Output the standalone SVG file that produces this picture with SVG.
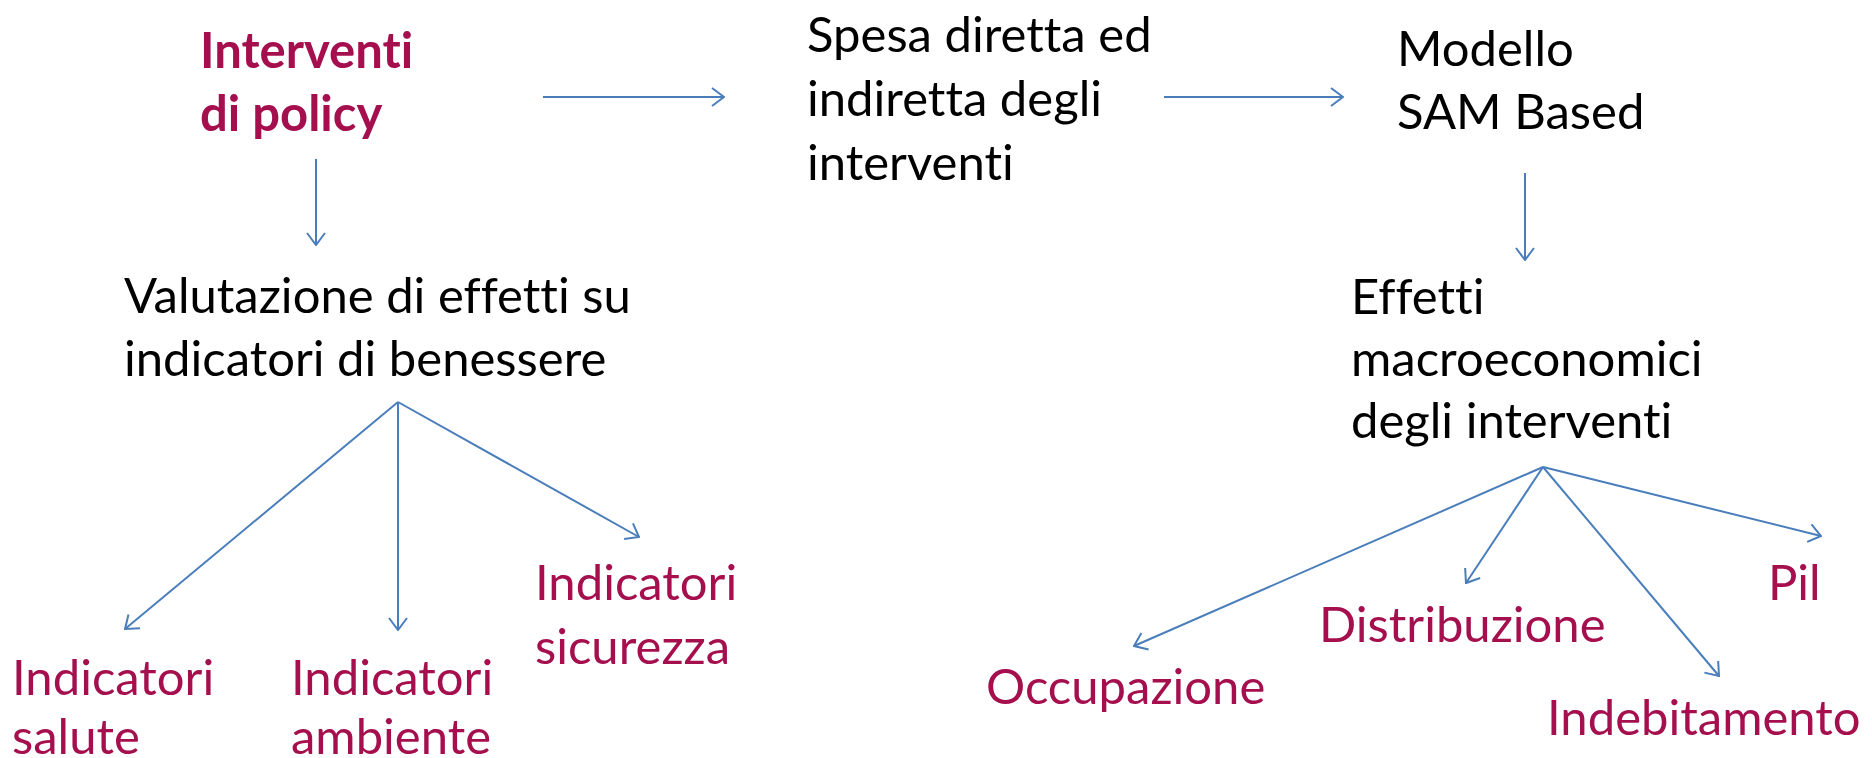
<svg xmlns="http://www.w3.org/2000/svg" width="1872" height="758" viewBox="0 0 1872 758">
<style>
text{font-family:Lato,"Liberation Sans",sans-serif;font-size:49px;font-variant-ligatures:none;font-feature-settings:"liga" 0,"dlig" 0}
.k{fill:#000}
.r{fill:#A50F4E}
.b{font-weight:bold}
.c line{stroke:#4A7EBB;stroke-width:2;marker-end:url(#ah)}
</style>
<defs>
<marker id="ah" viewBox="0 0 14 20" refX="13" refY="10" markerWidth="14" markerHeight="20" markerUnits="userSpaceOnUse" orient="auto">
<path d="M1,1 L13,10 L1,19" fill="none" stroke="#4A7EBB" stroke-width="2"/>
</marker>
</defs>
<rect width="1872" height="758" fill="#fff"/>
<g id="interventi"><text class="r b" x="200" y="68">Interventi</text><text class="r b" x="200" y="131">di policy</text></g>
<g id="spesa"><text class="k" x="807" y="52">Spesa diretta ed</text><text class="k" x="807" y="116">indiretta degli</text><text class="k" x="807" y="180">interventi</text></g>
<g id="modello"><text class="k" x="1397" y="66">Modello</text><text class="k" x="1397" y="129">SAM Based</text></g>
<g id="valutazione"><text class="k" x="124" y="313">Valutazione di effetti su</text><text class="k" x="124" y="376">indicatori di benessere</text></g>
<g id="effetti"><text class="k" x="1351" y="314">Effetti</text><text class="k" x="1351" y="376">macroeconomici</text><text class="k" x="1351" y="438">degli interventi</text></g>
<g id="salute"><text class="r" x="12" y="695">Indicatori</text><text class="r" x="12" y="754">salute</text></g>
<g id="ambiente"><text class="r" x="291" y="695">Indicatori</text><text class="r" x="291" y="754">ambiente</text></g>
<g id="sicurezza"><text class="r" x="535" y="600">Indicatori</text><text class="r" x="535" y="664">sicurezza</text></g>
<g id="occupazione"><text class="r" x="986" y="704">Occupazione</text></g>
<g id="distribuzione"><text class="r" x="1319" y="642">Distribuzione</text></g>
<g id="indebitamento"><text class="r" x="1547" y="735">Indebitamento</text></g>
<g id="pil"><text class="r" x="1768" y="600">Pil</text></g>
<g id="connectors" class="c">
<line x1="543" y1="97" x2="724" y2="97"/>
<line x1="316" y1="159" x2="316" y2="245"/>
<line x1="1164" y1="97" x2="1343" y2="97"/>
<line x1="1525" y1="173" x2="1525" y2="260"/>
<line x1="398" y1="402" x2="125" y2="629"/>
<line x1="398" y1="402" x2="398" y2="630"/>
<line x1="398" y1="402" x2="639" y2="537"/>
<line x1="1543" y1="467" x2="1134" y2="646"/>
<line x1="1543" y1="467" x2="1466" y2="583"/>
<line x1="1543" y1="467" x2="1719" y2="676"/>
<line x1="1543" y1="467" x2="1821" y2="536"/>
</g>
</svg>
